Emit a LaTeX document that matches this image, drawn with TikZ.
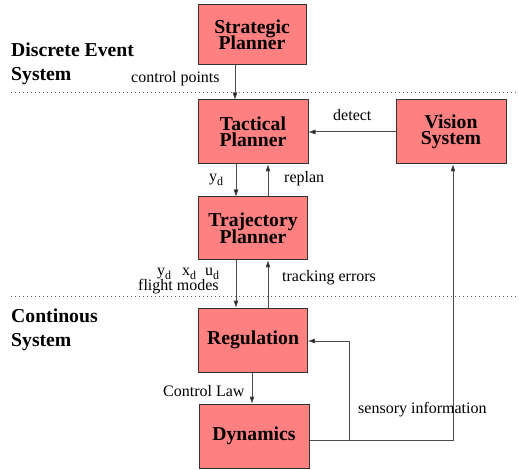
\documentclass[tikz,border=0pt]{standalone}
\usepackage{fontspec}
\setmainfont{Liberation Serif}
\usetikzlibrary{arrows.meta}
\definecolor{boxred}{RGB}{255,128,128}
\newcommand\blkfont{\fontsize{19.7}{16.5}\selectfont\bfseries\lineskiplimit=-20pt\relax}
\newcommand\lowsub[1]{\raisebox{-4pt}{\fontsize{12}{12}\selectfont #1}}
\tikzset{
  blk/.style={draw=black!80, line width=1pt, fill=boxred, minimum width=109pt,
    minimum height=64pt, inner sep=0pt, align=center, font=\blkfont},
  lbl/.style={font=\fontsize{16}{19}\selectfont, inner sep=0pt, anchor=base west},
  side/.style={font=\fontsize{19.7}{24}\selectfont\bfseries, inner sep=0pt,
    anchor=base west, align=left},
  flow/.style={draw=black!70, line width=1pt,
    -{Triangle[length=7pt,width=4.5pt,fill=black]}},
  sep/.style={draw=black!60, line width=0.8pt, dash pattern=on 0.8pt off 3.2pt},
}
\begin{document}
\begin{tikzpicture}[x=1pt,y=-1pt]
  \useasboundingbox (0,0) rectangle (519,470);
  % the planner / system blocks
  \node(strat)[blk, minimum width=108pt, minimum height=60pt] at(252,35) {Strategic\\Planner};
  \node(tact)[blk, minimum width=110pt] at(253,132) {Tactical\\Planner};
  \node(vis)[blk, minimum width=110pt] at(451,132) {Vision\\System};
  \node(traj)[blk, minimum height=63pt] at(253,228.5) {Trajectory\\Planner};
  \node(reg)[blk] at(253,340) {Regulation};
  \node(dyn)[blk, minimum width=110pt] at(254,436) {Dynamics};
  % dotted borders between the two levels
  \foreach \y in {92,296}{%
    \draw[sep](11,\y)--(519,\y);
  }
  % base is the last line here
  \node(des)[side] at(11,81) {Discrete Event\\System};
  \node(cs)[side] at(11,346) {Continous\\System};
  % connectors
  \draw[flow]([xshift=-17pt]strat.south)--([xshift=-18pt]tact.north);
  \draw[flow]([xshift=-17pt]tact.south)--([xshift=-17pt]traj.north);
  \draw[flow]([xshift=15pt]traj.north)--([xshift=15pt]tact.south);
  \draw[flow]([xshift=-17pt]traj.south)--([xshift=-17pt]reg.north);
  \draw[flow]([xshift=15pt]reg.north)--([xshift=15pt]traj.south);
  \draw[flow]([xshift=-1pt]reg.south)--([xshift=-2pt]dyn.north);
  \draw[flow](vis.west)--(tact.east);
  \coordinate(split) at(349,440);
  \draw[flow]([yshift=-4pt]dyn.east)--(split)|-([yshift=-1pt]reg.east);
  \draw[flow](split)-|([xshift=2pt]vis.south);
  % labels
  \node(cp)[lbl] at(131,83) {control points};
  \node(det)[lbl] at(333,121) {detect};
  \node(yd)[lbl] at(209,182) {y\lowsub{d}};
  \node(rp)[lbl] at(284,183) {replan};
  \node(xud)[lbl] at(157,276) {y\lowsub{d}\hspace{11pt}x\lowsub{d}\hspace{9pt}u\lowsub{d}};
  \node(fm)[lbl] at(138,290) {flight modes};
  \node(te)[lbl] at(282,281) {tracking errors};
  \node(cl)[lbl] at(163,396) {Control Law};
  \node(si)[lbl] at(358,413) {sensory information};
\end{tikzpicture}
\end{document}
